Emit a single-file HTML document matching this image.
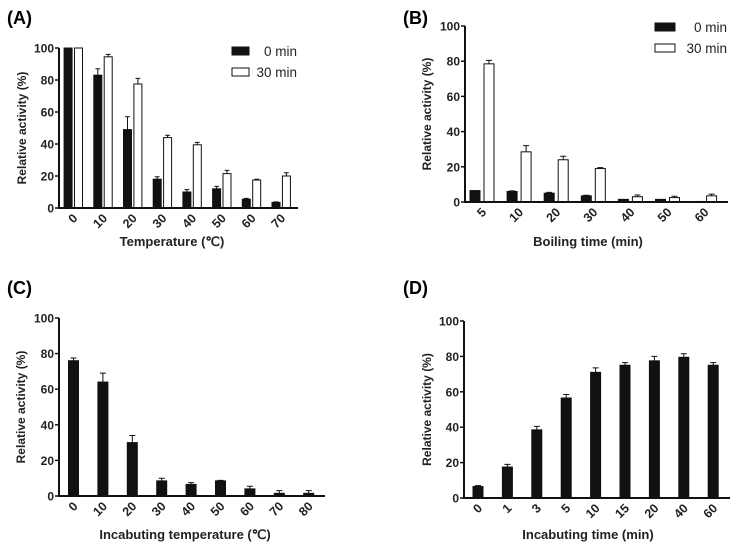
<!DOCTYPE html>
<html><head><meta charset="utf-8"><style>
html,body{margin:0;padding:0;background:#fff;}
svg{display:block;font-family:"Liberation Sans",Arial,sans-serif;}
</style></head><body>
<svg id="fig" width="735" height="545" viewBox="0 0 735 545" xmlns="http://www.w3.org/2000/svg">
<text x="7" y="24" font-size="18" font-weight="bold">(A)</text>
<text x="403" y="24" font-size="18" font-weight="bold">(B)</text>
<text x="7" y="294" font-size="18" font-weight="bold">(C)</text>
<text x="403" y="294" font-size="18" font-weight="bold">(D)</text>
</svg>
<script>
const yTicks = [0,20,40,60,80,100];
const catsA = ["0","10","20","30","40","50","60","70"];
const aBlack = [100,83,49,18,10,12,5.5,3.5];
const aBlackErr = [0,4,8,1.5,1.5,1.5,0.5,0.3];
const aWhite = [100,94.5,77.5,44,39.5,21.5,17.5,20];
const aWhiteErr = [0,1.5,3.5,1.5,1.5,2,0.5,2];
const catsB = ["5","10","20","30","40","50","60"];
const bBlack = [6.5,6,5,3.5,1.5,1.5,0.3];
const bBlackErr = [0,0.3,0.5,0.3,0,0,0];
const bWhite = [78.5,28.5,24,19,3,2.5,3.5];
const bWhiteErr = [2,3.5,2,0.5,1,0.8,1];
const catsC = ["0","10","20","30","40","50","60","70","80"];
const cVals = [76,64,30,8.5,6.5,8.5,4,1.5,1.5];
const cErr = [1.5,5,4,1.5,1,0.3,1.5,1.5,1.5];
const catsD = ["0","1","3","5","10","15","20","40","60"];
const dVals = [6.5,17.5,38.5,56.5,71,75,77.5,79.5,75];
const dErr = [0.5,1.5,2,2,2.5,1.5,2.5,2,1.5];

const svg = document.getElementById('fig');
const NS = 'http://www.w3.org/2000/svg';
function mk(tag, attrs, parent){
  const e = document.createElementNS(NS, tag);
  for (const k in attrs) e.setAttribute(k, attrs[k]);
  (parent||svg).appendChild(e);
  return e;
}

function panel(p){
  const g = mk('g', {});
  
  
  const y = v => p.yBot - (v/100)*(p.yBot - p.yTop);
  const xc = i => p.first + i*p.pitch;
  p.series.forEach((s, si) => {
    s.vals.forEach((v, i) => {
      const cx = xc(i) + s.off;
      const top = y(v);
      const r = mk('rect', {x: cx - p.bw/2, y: top, width: p.bw, height: p.yBot - top,
        fill: s.fill, stroke: '#111', 'stroke-width': 1}, g);
      
      
      if (s.err[i] > 0) {
        const et = y(v + s.err[i]);
        const l = mk('path', {d: `M${cx} ${top}V${et}M${cx - p.bw*0.3} ${et}H${cx + p.bw*0.3}`,
          stroke: '#111', 'stroke-width': 1, fill: 'none'}, g);
        
        
      }
    });
  });
  const ax = mk('path', {d: `M${p.x0} ${p.yTop}V${p.yBot}H${p.xEnd}`, stroke: '#111', 'stroke-width': 2, fill: 'none'}, g);
  
  
  yTicks.forEach(t => {
    const tk = mk('path', {d: `M${p.x0-4} ${y(t)}H${p.x0}`, stroke: '#111', 'stroke-width': 1.5}, g);
    
    
    const tl = mk('text', {x: p.x0 - 5, y: y(t) + 4.5, 'text-anchor': 'end', 'font-size': 12, 'font-weight': 'bold', fill: '#222'}, g);
    tl.textContent = t;
    
    
  });
  p.cats.forEach((c, i) => {
    const cx = xc(i) + (p.labOff||0);
    const tx = mk('text', {x: 0, y: 0, 'text-anchor': 'end', 'font-size': 12.5, 'font-weight': 'bold', fill: '#222',
      transform: `translate(${cx+5},${p.yBot+11}) rotate(-45)`}, g);
    tx.textContent = c;
    
    
  });
  const yt = mk('text', {x: 0, y: 0, 'text-anchor': 'middle', 'font-size': 12, 'font-weight': 'bold', fill: '#222',
    transform: `translate(${p.ytX},${(p.yTop+p.yBot)/2}) rotate(-90)`}, g);
  yt.textContent = 'Relative activity (%)';
  
  
  const xt = mk('text', {x: p.xtX, y: p.xtY, 'text-anchor': 'middle', 'font-size': 13, 'font-weight': 'bold', fill: '#222'}, g);
  xt.textContent = p.xTitle;
  
  
  if (p.legend) {
    const L = p.legend;
    [['#111','0 min'],['#fff','30 min']].forEach((e, k) => {
      const ly = L.y + k*21;
      const lr = mk('rect', {x: L.x, y: ly, width: L.w, height: 8, fill: e[0], stroke: '#111', 'stroke-width': 1}, g);
      
      
      const lt = mk('text', {x: L.tx, y: ly + 9, 'text-anchor': 'end', 'font-size': 13.5, fill: '#222'}, g);
      lt.textContent = e[1];
      
      
    });
  }
}

panel({name:'panel-a', x0:59, yTop:48, yBot:208, xEnd:298, first:73.3, pitch:29.7, bw:8, cats:catsA,
  series:[{key:'0-min', vals:aBlack, err:aBlackErr, fill:'#111', off:-5.2},{key:'30-min', vals:aWhite, err:aWhiteErr, fill:'#fff', off:5.2}],
  ytX:26, xtX:172, xtY:246, xTitle:'Temperature (\u2103)', legend:{x:232, y:47, w:17, tx:297}});
panel({name:'panel-b', x0:465, yTop:26, yBot:202, xEnd:728, first:482, pitch:37.1, bw:10, cats:catsB,
  series:[{key:'0-min', vals:bBlack, err:bBlackErr, fill:'#111', off:-7},{key:'30-min', vals:bWhite, err:bWhiteErr, fill:'#fff', off:7}],
  ytX:431, xtX:588, xtY:246, xTitle:'Boiling time (min)', legend:{x:655, y:23, w:20, tx:727}});
panel({name:'panel-c', x0:59, yTop:318, yBot:496, xEnd:325, first:73.5, pitch:29.4, bw:10, cats:catsC,
  series:[{key:'activity', vals:cVals, err:cErr, fill:'#111', off:0}],
  ytX:25, xtX:185, xtY:539, xTitle:'Incabuting temperature (\u2103)'});
panel({name:'panel-d', x0:464, yTop:321, yBot:498, xEnd:730, first:478, pitch:29.4, bw:10, cats:catsD,
  series:[{key:'activity', vals:dVals, err:dErr, fill:'#111', off:0}],
  ytX:431, xtX:588, xtY:539, xTitle:'Incabuting time (min)'});
</script>
</body></html>
